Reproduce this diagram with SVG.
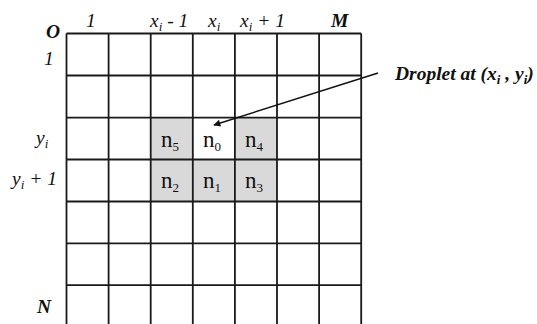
<svg xmlns="http://www.w3.org/2000/svg" width="537" height="324" viewBox="0 0 537 324">
<defs>
<style>
.grid{stroke:#1a1a1a;stroke-width:1.8;fill:none}
.lab{font-family:"Liberation Serif","Times New Roman",serif;font-style:italic;font-size:19.5px;fill:#111}
.b{font-weight:bold}
.n{font-family:"Liberation Serif","Times New Roman",serif;font-size:23px;fill:#111}
.sub{font-size:13px}
.shade{fill:#d9d9d9}
</style>
<marker id="ah" viewBox="0 0 10 10" refX="9" refY="5" markerWidth="9" markerHeight="7" markerUnits="userSpaceOnUse" orient="auto">
<path d="M0,0 L10,5 L0,10 z" fill="#111"/>
</marker>
</defs>
<rect width="537" height="324" fill="#fff"/>
<g id="cells">
<rect class="shade" x="150.7" y="117.6" width="126.3" height="83.9"/>
<rect x="192.8" y="117.6" width="42.1" height="41.9" fill="#fff"/>
</g>
<g id="grid" class="grid">
<path d="M66.5,33.5V324 M108.6,33.5V324 M150.7,33.5V324 M192.8,33.5V324 M234.9,33.5V324 M277,33.5V324 M319.1,33.5V324 M361.2,33.5V324"/>
<path d="M66.5,33.5H361.2 M66.5,75.5H361.2 M66.5,117.6H361.2 M66.5,159.5H361.2 M66.5,201.5H361.2 M66.5,243.3H361.2 M66.5,285.2H361.2"/>
</g>
<g id="axis-labels">
<text class="lab b" x="46" y="38" font-size="22">O</text>
<text class="lab" x="86" y="27">1</text>
<text class="lab" x="150" y="27">x<tspan class="sub" dy="4">i</tspan><tspan dy="-4"> - 1</tspan></text>
<text class="lab" x="208" y="27">x<tspan class="sub" dy="4">i</tspan></text>
<text class="lab" x="240" y="27">x<tspan class="sub" dy="4">i</tspan><tspan dy="-4"> + 1</tspan></text>
<text class="lab b" x="331" y="27" font-size="20">M</text>
<text class="lab" x="44" y="65">1</text>
<text class="lab" x="36" y="144">y<tspan class="sub" dy="4">i</tspan></text>
<text class="lab" x="12" y="185">y<tspan class="sub" dy="4">i</tspan><tspan dy="-4"> + 1</tspan></text>
<text class="lab b" x="37" y="313" font-size="20">N</text>
</g>
<g id="node-labels">
<text class="n" x="161" y="147">n<tspan class="sub" font-size="15" dy="4">5</tspan></text>
<text class="n" x="203" y="147">n<tspan class="sub" font-size="15" dy="4">0</tspan></text>
<text class="n" x="245" y="147">n<tspan class="sub" font-size="15" dy="4">4</tspan></text>
<text class="n" x="161" y="188">n<tspan class="sub" font-size="15" dy="4">2</tspan></text>
<text class="n" x="203" y="188">n<tspan class="sub" font-size="15" dy="4">1</tspan></text>
<text class="n" x="245" y="188">n<tspan class="sub" font-size="15" dy="4">3</tspan></text>
</g>
<g id="connectors">
<line x1="378" y1="73" x2="214" y2="125" stroke="#111" stroke-width="1.5" marker-end="url(#ah)"/>
</g>
<g id="droplet-label">
<text class="lab b" x="395" y="80" font-size="20.5">Droplet at (x<tspan class="sub" font-size="14" dy="4">i</tspan><tspan dy="-4"> , y</tspan><tspan class="sub" font-size="14" dy="4">i</tspan><tspan dy="-4">)</tspan></text>
</g>
</svg>
